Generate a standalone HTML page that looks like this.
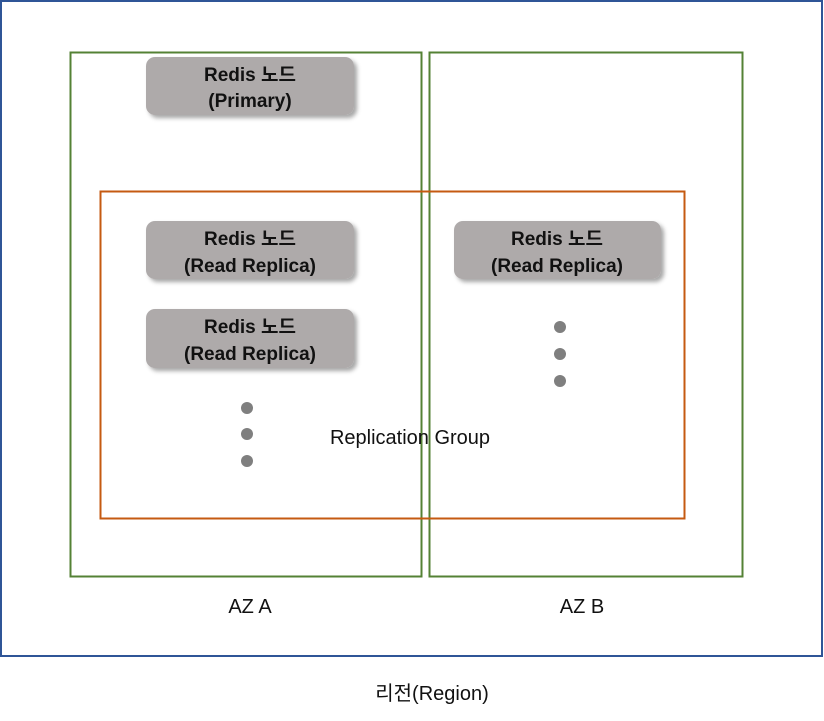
<!DOCTYPE html>
<html><head><meta charset="utf-8"><style>
html,body{margin:0;padding:0;background:#fff;}
svg{display:block;}
text{font-family:"Liberation Sans","Noto Sans CJK KR",sans-serif;}
.b{font-weight:bold;font-size:19px;fill:#111;}
.n{font-size:20px;fill:#111;}
</style></head><body>
<svg width="824" height="721" viewBox="0 0 824 721" xmlns="http://www.w3.org/2000/svg">
<defs><filter id="s" x="-10%" y="-20%" width="130%" height="150%"><feDropShadow dx="3" dy="3" stdDeviation="2" flood-color="#000" flood-opacity="0.35"/></filter></defs>
<rect x="1" y="1" width="821" height="655" fill="none" stroke="#2f5597" stroke-width="2"/>
<rect x="70.5" y="52.5" width="351" height="524" fill="none" stroke="#548235" stroke-width="2"/>
<rect x="429.5" y="52.5" width="313" height="524" fill="none" stroke="#548235" stroke-width="2"/>
<rect x="100.5" y="191.5" width="584" height="327" fill="none" stroke="#c55a11" stroke-width="2"/>
<g filter="url(#s)" fill="#aeaaaa">
<rect x="146" y="57" width="208" height="58" rx="9"/>
<rect x="146" y="221" width="208" height="58" rx="9"/>
<rect x="146" y="309" width="208" height="59" rx="9"/>
<rect x="454" y="221" width="207" height="58" rx="9"/>
</g>
<g class="b" text-anchor="middle">
<text x="250" y="81">Redis 노드</text><text x="250" y="107">(Primary)</text>
<text x="250" y="245">Redis 노드</text><text x="250" y="272">(Read Replica)</text>
<text x="250" y="333">Redis 노드</text><text x="250" y="360">(Read Replica)</text>
<text x="557" y="245">Redis 노드</text><text x="557" y="272">(Read Replica)</text>
</g>
<g fill="#7f7f7f">
<circle cx="247" cy="408" r="6"/><circle cx="247" cy="434" r="6"/><circle cx="247" cy="461" r="6"/>
<circle cx="560" cy="327" r="6"/><circle cx="560" cy="354" r="6"/><circle cx="560" cy="381" r="6"/>
</g>
<g class="n" text-anchor="middle">
<text x="410" y="444">Replication Group</text>
<text x="250" y="613">AZ A</text>
<text x="582" y="613">AZ B</text>
<text x="432" y="700">리전(Region)</text>
</g>
</svg>
</body></html>
